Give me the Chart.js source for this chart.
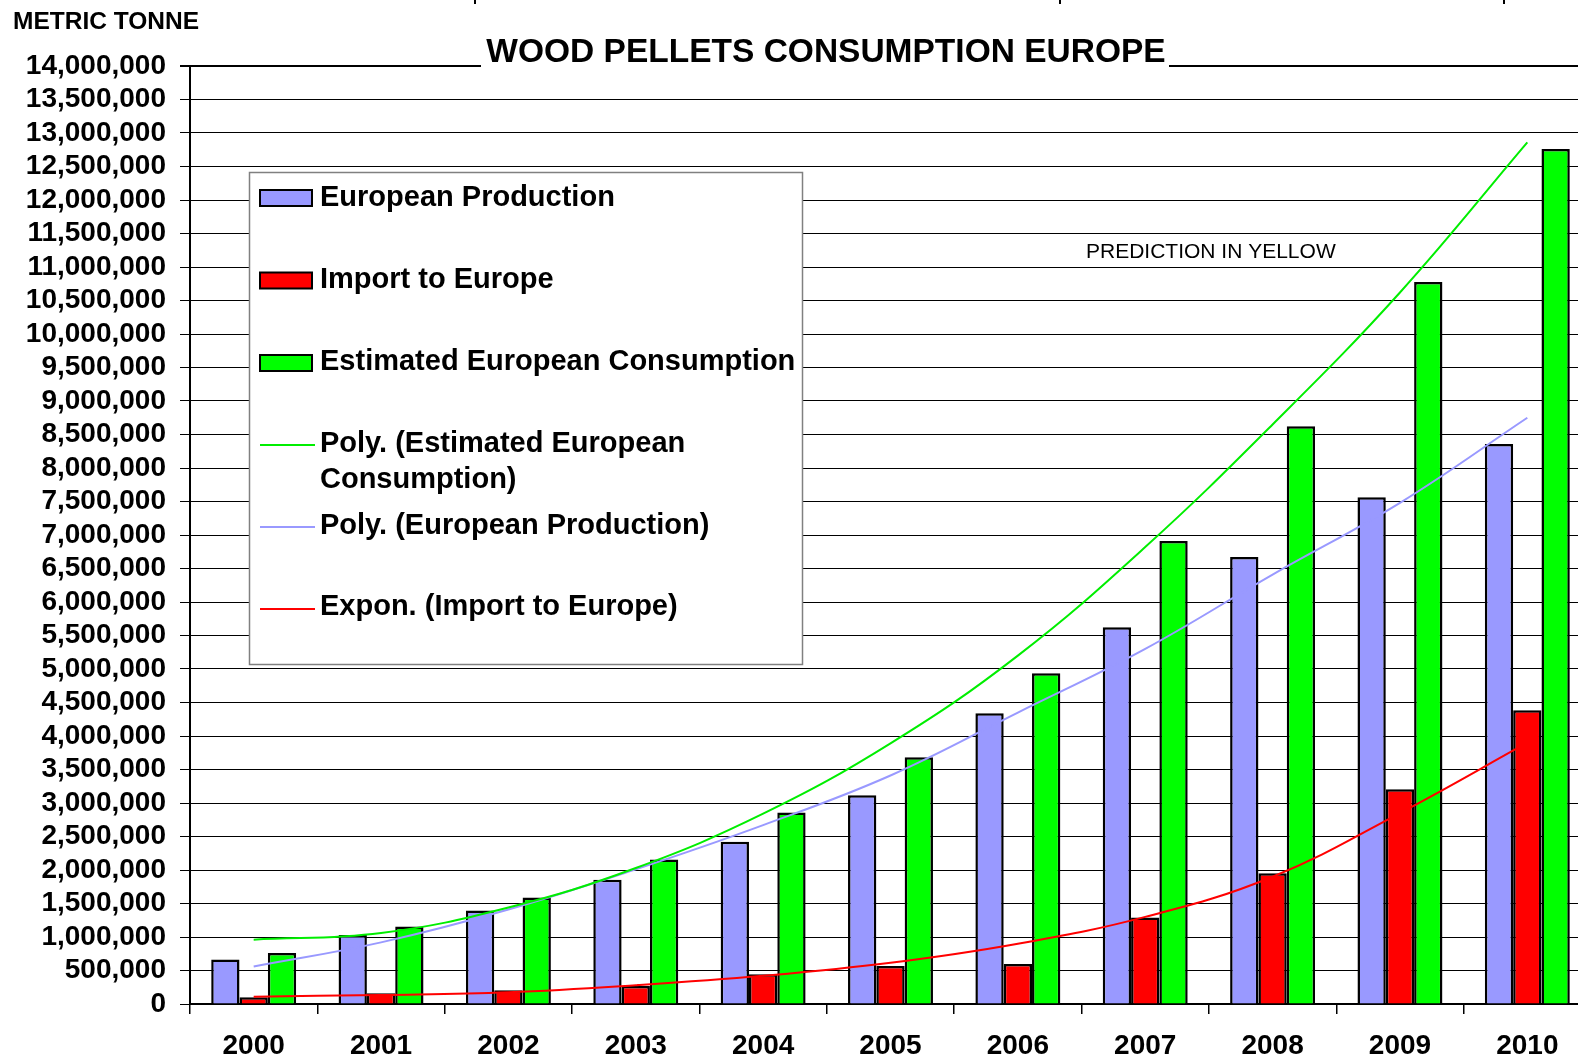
<!DOCTYPE html>
<html>
<head>
<meta charset="utf-8">
<title>Wood Pellets Consumption Europe</title>
<script src="https://cdn.jsdelivr.net/npm/chart.js@4.4.1/dist/chart.umd.min.js"></script>
<style>
  html, body { margin: 0; padding: 0; background: #fff; overflow: hidden; }
  #wrap { width: 1578px; height: 1059px; overflow: hidden; position: relative; }
  canvas { display: block; }
</style>
</head>
<body>
<div id="wrap">
  <canvas id="pelletChart" width="1591" height="1059" style="width:1591px;height:1059px"></canvas>
</div>
<script>
// years on the x axis
const years = ["2000", "2001", "2002", "2003", "2004", "2005", "2006", "2007", "2008", "2009", "2010"];

// bar series (metric tonne)
const europeanProduction = [665000, 1030000, 1395000, 1855000, 2420000, 3115000, 4340000, 5625000, 6670000, 7565000, 8360000];
const importToEurope = [100000, 162000, 205000, 270000, 443000, 568000, 597000, 1290000, 1950000, 3205000, 4385000];
const estimatedConsumption = [763000, 1158000, 1590000, 2155000, 2858000, 3683000, 4937000, 6910000, 8625000, 10775000, 12763000];

// excel trendlines at each year
const polyConsumption = [960000, 1060000, 1440000, 2030000, 2840000, 3890000, 5200000, 6820000, 8650000, 10620000, 12860000];
const polyProduction = [560000, 920000, 1410000, 2010000, 2670000, 3410000, 4350000, 5300000, 6410000, 7480000, 8750000];
const exponImport = [110000, 135000, 175000, 280000, 420000, 615000, 900000, 1300000, 1900000, 2850000, 3900000];

const yTicksMax = 14000000;
const yTicksStep = 500000;

const FONT = '"Liberation Sans", Arial, Helvetica, sans-serif';
Chart.defaults.font.family = FONT;
Chart.defaults.color = '#000';

// title, axis caption, note and the boxed legend
const overlayPlugin = {
  id: 'overlay',
  afterDraw(chart) {
    const ctx = chart.ctx;
    ctx.save();

    // title sits on top of the 14,000,000 line
    ctx.fillStyle = '#fff';
    ctx.fillRect(481, 28, 688, 42);
    ctx.fillStyle = '#000';
    ctx.font = 'bold 33.5px ' + FONT;
    ctx.textAlign = 'center';
    ctx.textBaseline = 'alphabetic';
    ctx.fillText('WOOD PELLETS CONSUMPTION EUROPE', 826, 62);

    ctx.textAlign = 'left';
    ctx.font = 'bold 24.5px ' + FONT;
    ctx.fillText('METRIC TONNE', 13, 29);

    ctx.font = '21px ' + FONT;
    ctx.fillText('PREDICTION IN YELLOW', 1086, 258);

    // little cut off marks at the top edge
    ctx.strokeStyle = '#000';
    ctx.lineWidth = 2;
    [475, 1060, 1504].forEach(x => {
      ctx.beginPath();
      ctx.moveTo(x, 0);
      ctx.lineTo(x, 4);
      ctx.stroke();
    });

    // legend box
    const box = { x: 249, y: 172, w: 553, h: 492 };
    ctx.fillStyle = '#fff';
    ctx.fillRect(box.x, box.y, box.w, box.h);
    ctx.strokeStyle = '#808080';
    ctx.lineWidth = 1.5;
    ctx.strokeRect(box.x + 0.5, box.y + 0.5, box.w, box.h);

    const order = [0, 1, 2, 3, 4, 5];
    const baselines = [[206], [288], [370], [452, 488], [534], [615]];
    const marks = [198, 280.5, 363, 445, 527, 609];
    ctx.font = 'bold 29px ' + FONT;
    ctx.textAlign = 'left';
    order.forEach((idx, row) => {
      const ds = chart.data.datasets[idx];
      const my = marks[row];
      if (ds.type === 'line') {
        ctx.strokeStyle = ds.borderColor;
        ctx.lineWidth = 2;
        ctx.beginPath();
        ctx.moveTo(260, my);
        ctx.lineTo(315, my);
        ctx.stroke();
      } else {
        ctx.fillStyle = ds.backgroundColor;
        ctx.fillRect(260, my - 8, 52, 16);
        ctx.strokeStyle = '#000';
        ctx.lineWidth = 2;
        ctx.strokeRect(260, my - 8, 52, 16);
      }
      ctx.fillStyle = '#000';
      const lines = wrapText(ctx, ds.label, box.x + box.w - 320 - 4);
      lines.forEach((t, i) => {
        const b = baselines[row][i] !== undefined ? baselines[row][i] : baselines[row][0] + 36 * i;
        ctx.fillText(t, 320, b);
      });
    });
    ctx.restore();
  }
};

function wrapText(ctx, text, maxWidth) {
  const words = text.split(' ');
  const lines = [];
  let cur = '';
  words.forEach(w => {
    const test = cur ? cur + ' ' + w : w;
    if (ctx.measureText(test).width > maxWidth && cur) {
      lines.push(cur);
      cur = w;
    } else {
      cur = test;
    }
  });
  if (cur) lines.push(cur);
  return lines;
}

const ctx = document.getElementById('pelletChart').getContext('2d');

const pelletChart = new Chart(ctx, {
  type: 'bar',
  data: {
    labels: years,
    datasets: [
      {
        label: 'European Production',
        data: europeanProduction,
        backgroundColor: '#9999ff',
        borderColor: '#000',
        borderWidth: 2.5,
        order: 2,
      },
      {
        label: 'Import to Europe',
        data: importToEurope,
        backgroundColor: '#ff0000',
        borderColor: '#000',
        borderWidth: 2.5,
        order: 2,
      },
      {
        label: 'Estimated European Consumption',
        data: estimatedConsumption,
        backgroundColor: '#00ff00',
        borderColor: '#000',
        borderWidth: 2.5,
        order: 2,
      },
      {
        type: 'line',
        label: 'Poly. (Estimated European Consumption)',
        data: polyConsumption,
        borderColor: '#00ee00',
        borderWidth: 2,
        pointRadius: 0,
        tension: 0.4,
        fill: false,
        order: 1,
      },
      {
        type: 'line',
        label: 'Poly. (European Production)',
        data: polyProduction,
        borderColor: '#9999ff',
        borderWidth: 2,
        pointRadius: 0,
        tension: 0.4,
        fill: false,
        order: 1,
      },
      {
        type: 'line',
        label: 'Expon. (Import to Europe)',
        data: exponImport,
        borderColor: '#ff0000',
        borderWidth: 2,
        pointRadius: 0,
        tension: 0.4,
        fill: false,
        order: 1,
      },
    ],
  },
  options: {
    responsive: false,
    animation: false,
    devicePixelRatio: 1,
    layout: { padding: { top: 66, left: 0, right: 0, bottom: 0 } },
    datasets: {
      bar: { categoryPercentage: 0.667, barPercentage: 1.0 },
    },
    plugins: {
      legend: { display: false },
      title: { display: false },
      tooltip: { enabled: false },
    },
    scales: {
      x: {
        grid: {
          offset: true,
          drawOnChartArea: false,
          tickLength: 10,
          color: '#000',
          lineWidth: 1.5,
        },
        border: { display: true, color: '#000', width: 2 },
        ticks: {
          font: { size: 28, weight: 'bold' },
          color: '#000',
          padding: 15,
          maxRotation: 0,
        },
        afterFit(axis) { axis.height = 55; },
      },
      y: {
        min: 0,
        max: yTicksMax,
        grid: {
          color: '#000',
          lineWidth: c => (c.tick && c.tick.value === yTicksMax ? 2 : 1),
          tickLength: 10,
        },
        border: { display: true, color: '#000', width: 2 },
        ticks: {
          stepSize: yTicksStep,
          autoSkip: false,
          font: { size: 28, weight: 'bold' },
          color: '#000',
          padding: 14,
          callback: v => v.toLocaleString('en-US'),
        },
        afterFit(axis) { axis.width = 190; },
      },
    },
  },
  plugins: [overlayPlugin],
});
</script>
</body>
</html>
